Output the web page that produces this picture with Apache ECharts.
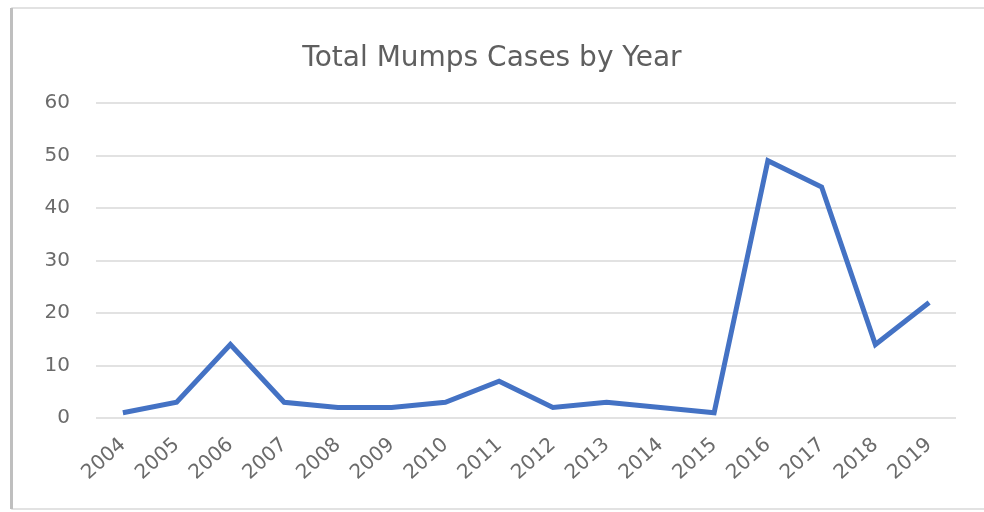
<!DOCTYPE html>
<html><head><meta charset="utf-8">
<script src="https://cdn.jsdelivr.net/npm/echarts@6/dist/echarts.min.js"></script>
<style>html,body{margin:0;padding:0;background:#fff}#c{width:984px;height:512px}</style>
</head><body><div id="c"></div>
<script>
const years = ['2004','2005','2006','2007','2008','2009','2010','2011','2012','2013','2014','2015','2016','2017','2018','2019'];
const cases = [1,3,14,3,2,2,3,7,2,3,2,1,49,44,14,22];
const yTicks = [0,10,20,30,40,50,60];
const chart = echarts.init(document.getElementById('c'));
chart.setOption({
  animation:false,
  backgroundColor:'#fff',
  title:{text:'Total Mumps Cases by Year',left:'center',top:40,
    textStyle:{fontFamily:'DejaVu Sans',fontSize:28,fontWeight:'normal',color:'#5f5f5f'}},
  graphic:[
    {type:'rect',shape:{x:12,y:8,width:990,height:501},style:{fill:'none',stroke:'#d9d9d9',lineWidth:1.5},silent:true},
    {type:'rect',shape:{x:10,y:8,width:3,height:501},style:{fill:'#bfbfbf'},silent:true}
  ],
  grid:{left:96,right:28,top:103,bottom:94,containLabel:false},
  xAxis:{type:'category',data:years,boundaryGap:true,
    axisLine:{show:false},axisTick:{show:false},
    axisLabel:{rotate:42,margin:24,fontFamily:'DejaVu Sans',fontSize:20,color:'#6b6b6b',interval:0}},
  yAxis:{type:'value',min:yTicks[0],max:yTicks[yTicks.length-1],interval:10,
    axisLine:{show:false},axisTick:{show:false},
    axisLabel:{margin:26,fontFamily:'DejaVu Sans',fontSize:20,color:'#6b6b6b'},
    splitLine:{lineStyle:{color:'#d9d9d9',width:1.5}}},
  series:[{type:'line',data:cases,symbol:'none',
    lineStyle:{color:'#4472C4',width:5,join:'miter'},itemStyle:{color:'#4472C4'}}]
});
</script></body></html>
